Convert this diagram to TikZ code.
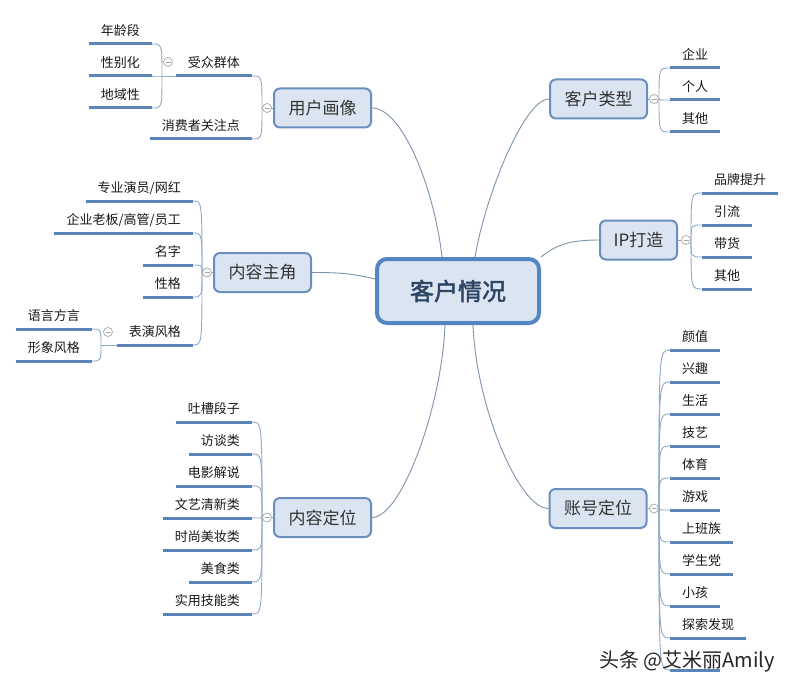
\documentclass[tikz,border=0pt]{standalone}
\usepackage{fontspec}
\setmainfont{Noto Sans CJK SC}
\newfontfamily\cjkb{Noto Sans CJK SC}[FakeBold=2]
\usetikzlibrary{calc}
\pgfdeclarelayer{bg}
\pgfsetlayers{bg,main}
\definecolor{boxfill}{HTML}{DBE5F1}
\definecolor{boxline}{HTML}{6A8FBF}
\definecolor{rootline}{HTML}{5586C4}
\definecolor{roottext}{HTML}{2E4665}
\definecolor{ulc}{HTML}{5B85B8}
\definecolor{connc}{HTML}{7F92AD}
\definecolor{branchc}{HTML}{8FA9C9}
\begin{document}
\begin{tikzpicture}[x=1pt,y=-1pt,
 root/.style={draw=rootline, line width=4pt, fill=boxfill, rounded corners=10pt, minimum width=162pt, minimum height=64pt, inner sep=0pt, font=\cjkb\fontsize{24}{28}\selectfont, text=roottext},
 topic/.style={draw=boxline, line width=2pt, fill=boxfill, rounded corners=6pt, minimum width=97pt, minimum height=39pt, inner sep=0pt, font=\fontsize{17}{20}\selectfont, text=black!80},
 leaf/.style={inner xsep=12pt, inner ysep=0pt, minimum height=26pt, font=\fontsize{13}{15}\selectfont, text=black!90},
 leafL/.style={leaf, anchor=south east},
 leafR/.style={leaf, anchor=south west},
 ul/.style={draw=ulc, line width=3pt},
 conn/.style={draw=connc, line width=0.9pt},
 br/.style={draw=branchc, line width=0.9pt},
 col/.style={circle, draw=gray!70, fill=white, line width=0.7pt, minimum size=9pt, inner sep=0pt,
   path picture={\draw[gray!70, line width=0.7pt] ([xshift=-2.5pt]path picture bounding box.center) -- ([xshift=2.5pt]path picture bounding box.center);}},
 wm/.style={font=\fontsize{20}{24}\selectfont, text=black!85}
]
\useasboundingbox (0,0) rectangle (794,687);

% root and topics
\node[root] (c) at (458,291) {客户情况};
\node[topic] (u) at (322.5,108) {用户画像};
\node[topic] (k) at (598.5,99) {客户类型};
\node[topic] (z) at (262.5,272.5) {内容主角};
\node[topic, minimum width=77pt] (ip) at (638.5,240) {IP打造};
\node[topic] (d) at (322.5,517.5) {内容定位};
\node[topic] (a) at (598,508.5) {账号定位};

% junctions
\coordinate (ju) at (262,108);
\coordinate (jq) at (162,76);
\coordinate (jz) at (202,272.5);
\coordinate (jb) at (101,345);
\coordinate (jd) at (262,517.5);
\coordinate (jk) at (659,99);
\coordinate (ji) at (691,240);
\coordinate (ja) at (659,508.5);

% leaves: 用户画像
\node[leafL] (u1) at (252,76) {受众群体};
\node[leafL] (u2) at (252,139) {消费者关注点};
\node[leafL] (q1) at (152,44) {年龄段};
\node[leafL] (q2) at (152,76) {性别化};
\node[leafL] (q3) at (152,108) {地域性};
% 内容主角
\node[leafL] (z1) at (193,201) {专业演员/网红};
\node[leafL] (z2) at (193,233) {企业老板/高管/员工};
\node[leafL] (z3) at (193,265) {名字};
\node[leafL] (z4) at (193,297) {性格};
\node[leafL] (z5) at (193,345) {表演风格};
\node[leafL] (b1) at (92,329) {语言方言};
\node[leafL] (b2) at (92,361) {形象风格};
% 内容定位
\node[leafL] (d1) at (252,422) {吐槽段子};
\node[leafL] (d2) at (252,454) {访谈类};
\node[leafL] (d3) at (252,486) {电影解说};
\node[leafL] (d4) at (252,518) {文艺清新类};
\node[leafL] (d5) at (252,550) {时尚美妆类};
\node[leafL] (d6) at (252,582) {美食类};
\node[leafL] (d7) at (252,614) {实用技能类};
% 客户类型
\node[leafR] (k1) at (670,68) {企业};
\node[leafR] (k2) at (670,100) {个人};
\node[leafR] (k3) at (670,132) {其他};
% IP打造
\node[leafR] (i1) at (702,193) {品牌提升};
\node[leafR] (i2) at (702,225) {引流};
\node[leafR] (i3) at (702,257) {带货};
\node[leafR] (i4) at (702,289) {其他};
% 账号定位
\node[leafR] (a1) at (670,350) {颜值};
\node[leafR] (a2) at (670,382) {兴趣};
\node[leafR] (a3) at (670,414) {生活};
\node[leafR] (a4) at (670,446) {技艺};
\node[leafR] (a5) at (670,478) {体育};
\node[leafR] (a6) at (670,510) {游戏};
\node[leafR] (a7) at (670,542) {上班族};
\node[leafR] (a8) at (670,574) {学生党};
\node[leafR] (a9) at (670,606) {小孩};
\node[leafR] (a10) at (670,638) {探索发现};
\coordinate (a11w) at (670,670);
\coordinate (a11e) at (720,670);

\begin{pgfonlayer}{bg}
\fill[white] (0,0) rectangle (794,687);
% main connectors
\draw[conn] (u.east) .. controls +(30,0) and +(-8,-70) .. ([xshift=-16pt]c.north);
\draw[conn] (k.west) .. controls +(-25,0) and +(10,-60) .. ([xshift=17pt]c.north);
\draw[conn] (z.east) .. controls +(25,0) and +(-25,-6) .. ([yshift=12pt]c.west);
\draw[conn] (ip.west) .. controls +(-30,0) and +(15,-12) .. (c.north east);
\draw[conn] (d.east) .. controls +(30,0) and +(-3,80) .. ([xshift=-13pt]c.south);
\draw[conn] (a.west) .. controls +(-30,0) and +(3,80) .. ([xshift=15pt]c.south);
% stems
\draw[br] (u.west) -- (ju);
\draw[br] (u1.south west) -- (jq);
\draw[br] (z.west) -- (jz);
\draw[br] (z5.south west) -- (jb);
\draw[br] (d.west) -- (jd);
\draw[br] (k.east) -- (jk);
\draw[br] (ip.east) -- (ji);
\draw[br] (a.east) -- (ja);
% left branches
\foreach \j/\list in {ju/{u1,u2}, jq/{q1,q2,q3}, jz/{z1,z2,z3,z4,z5}, jb/{b1,b2}, jd/{d1,d2,d3,d4,d5,d6,d7}} {
  \foreach \n in \list {
    \draw[br] (\j) .. controls (\j |- \n.south east) .. (\n.south east);
    \draw[ul] (\n.south west) -- (\n.south east);
  }
}
% right branches
\foreach \j/\list in {jk/{k1,k2,k3}, ji/{i1,i2,i3,i4}, ja/{a1,a2,a3,a4,a5,a6,a7,a8,a9,a10}} {
  \foreach \n in \list {
    \draw[br] (\j) .. controls (\j |- \n.south west) .. (\n.south west);
    \draw[ul] (\n.south west) -- (\n.south east);
  }
}
\draw[br] (ja) .. controls (ja |- a11w) .. (a11w);
\draw[ul] (a11w) -- (a11e);
\end{pgfonlayer}

% collapse markers
\node[col] (cu) at (267,108) {};
\node[col] (cq) at (168,62) {};
\node[col] (cz) at (207,272.5) {};
\node[col] (cb) at (108,332) {};
\node[col] (cd) at (267,517.5) {};
\node[col] (ck) at (654,99) {};
\node[col] (ci) at (686,240) {};
\node[col] (ca) at (654,508.5) {};

% watermark
\node[wm] (w) at (687,661) {头条 @艾米丽Amily};
\end{tikzpicture}
\end{document}
